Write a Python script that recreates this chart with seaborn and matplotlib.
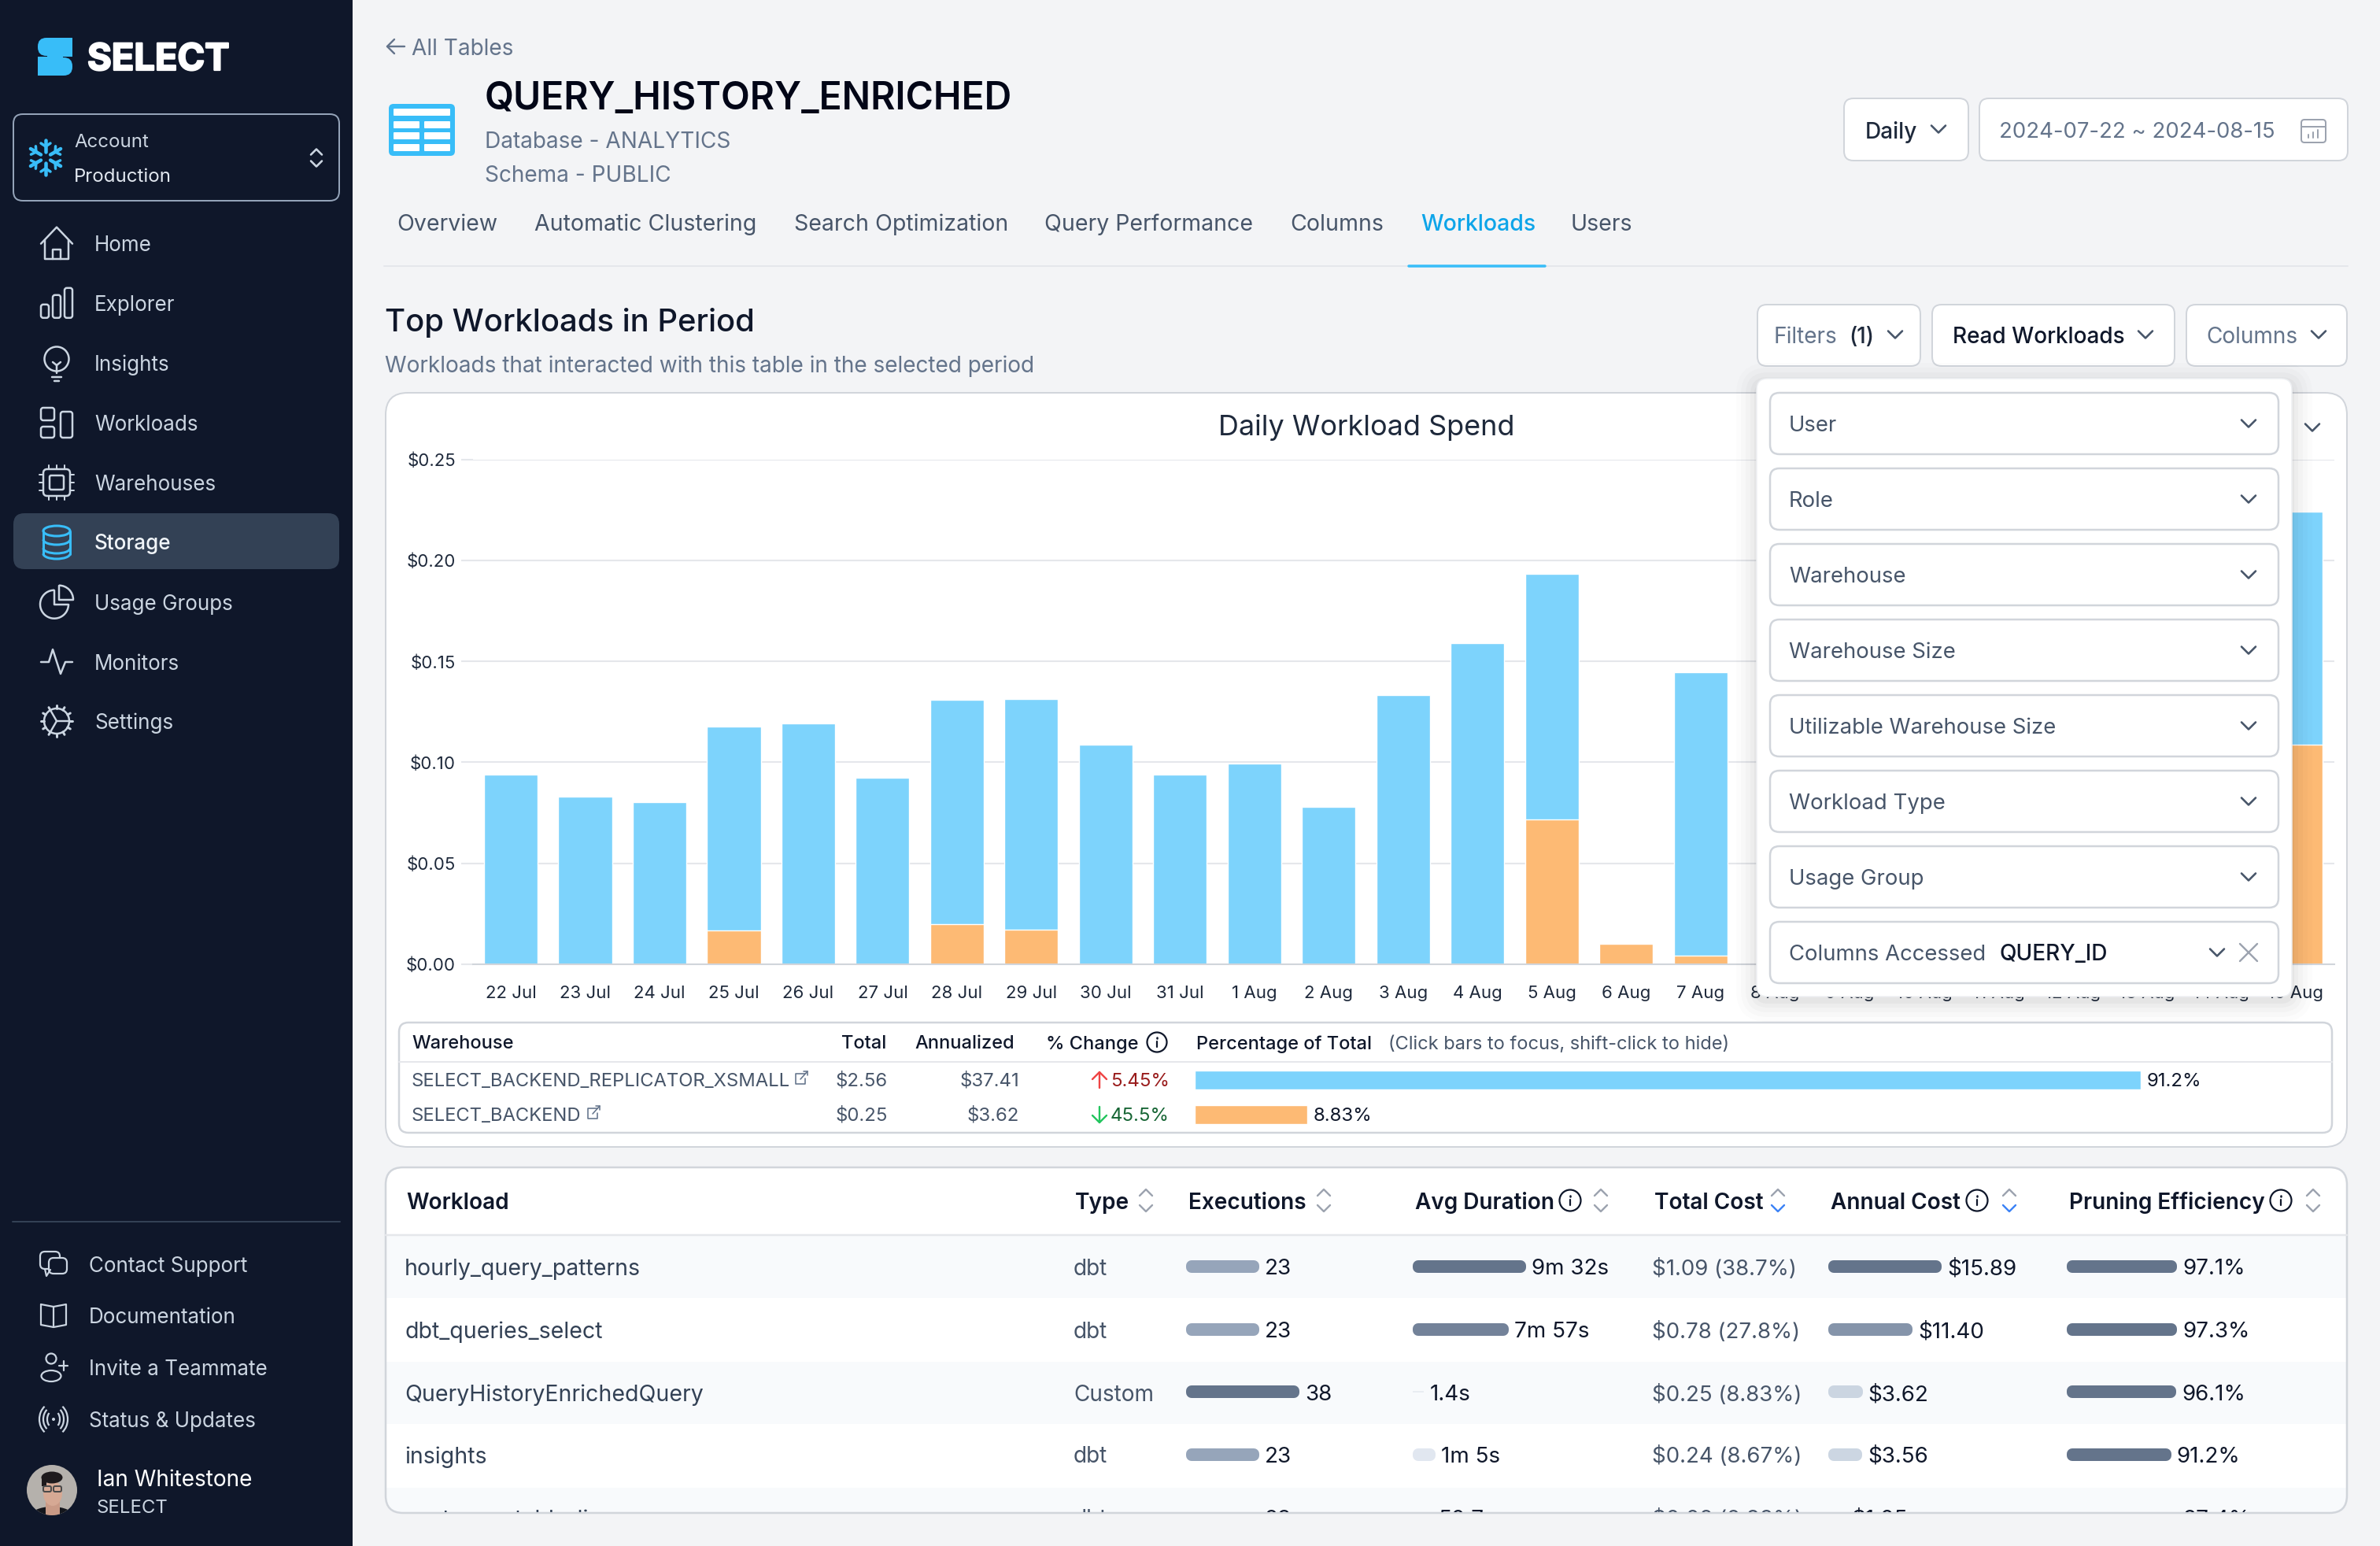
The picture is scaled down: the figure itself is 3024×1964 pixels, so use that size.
import matplotlib
matplotlib.use('Agg')
import matplotlib.patheffects as pe
import matplotlib.pyplot as plt
import numpy as np
import pandas as pd
import seaborn as sns
from matplotlib.colors import LinearSegmentedColormap
from matplotlib.patches import Arc, Circle, Ellipse, FancyBboxPatch, Rectangle

W, H = 3024, 1964

# chart data
days = ['22 Jul', '23 Jul', '24 Jul', '25 Jul', '26 Jul', '27 Jul', '28 Jul', '29 Jul', '30 Jul', '31 Jul',
        '1 Aug', '2 Aug', '3 Aug', '4 Aug', '5 Aug', '6 Aug', '7 Aug', '8 Aug', '9 Aug', '10 Aug',
        '11 Aug', '12 Aug', '13 Aug', '14 Aug', '15 Aug']
# 8 Aug - 14 Aug sit behind the filter panel, so they stay at zero
replicator_spend = [0.0939, 0.0829, 0.0802, 0.1011, 0.1194, 0.0924, 0.1114, 0.1143, 0.1088, 0.0939,
                    0.0994, 0.0778, 0.1335, 0.1592, 0.1219, 0.0, 0.1403, 0, 0, 0, 0, 0, 0, 0, 0.1155]
backend_spend = [0, 0, 0, 0.0167, 0, 0, 0.0196, 0.0171, 0, 0,
                 0, 0, 0, 0, 0.0717, 0.0100, 0.0043, 0, 0, 0, 0, 0, 0, 0, 0.1086]
spend_ticks = [0.0, 0.05, 0.10, 0.15, 0.20, 0.25]

warehouses = ['SELECT_BACKEND_REPLICATOR_XSMALL', 'SELECT_BACKEND']
warehouse_total = ['$2.56', '$0.25']
warehouse_annual = ['$37.41', '$3.62']
warehouse_change = ['5.45%', '45.5%']
warehouse_share = ['91.2%', '8.83%']
warehouse_bar = [100, 11.9]

workloads = ['hourly_query_patterns', 'dbt_queries_select', 'QueryHistoryEnrichedQuery', 'insights', 'customer_table_lineage']
types = ['dbt', 'dbt', 'Custom', 'dbt', 'dbt']
executions = [23, 23, 38, 23, 23]
duration_s = [572, 477, 1.4, 65, 50.7]
duration_txt = ['9m 32s', '7m 57s', '1.4s', '1m 5s', '50.7s']
cost_txt = ['$1.09 (38.7%)', '$0.78 (27.8%)', '$0.25 (8.83%)', '$0.24 (8.67%)', '$0.08 (2.93%)']
annual_cost = [15.89, 11.40, 3.62, 3.56, 1.05]
pruning = [97.1, 97.3, 96.1, 91.2, 97.4]

nav_main = ['Home', 'Explorer', 'Insights', 'Workloads', 'Warehouses', 'Storage', 'Usage Groups', 'Monitors', 'Settings']
nav_foot = ['Contact Support', 'Documentation', 'Invite a Teammate', 'Status & Updates']
tabs = ['Overview', 'Automatic Clustering', 'Search Optimization', 'Query Performance', 'Columns', 'Workloads', 'Users']
filters = ['User', 'Role', 'Warehouse', 'Warehouse Size', 'Utilizable Warehouse Size', 'Workload Type', 'Usage Group', 'Columns Accessed']

NAVY, SLATE, MUTED, INK = '#0f172a', '#cbd5e1', '#64748b', '#0f172a'
BODY, LINE, SKY, BAR_BLUE, BAR_ORANGE = '#475569', '#d1d5db', '#38bdf8', '#7dd3fc', '#fdba74'

sns.set_theme(style='white')
plt.rcParams['font.family'] = ['Inter', 'DejaVu Sans']

fig = plt.figure(figsize=(W / 100, H / 100), dpi=100, facecolor='#f3f4f6')


def px_axes(x0, y0, x1, y1, z=1):
    return fig.add_axes([x0 / W, 1 - y1 / H, (x1 - x0) / W, (y1 - y0) / H], zorder=z)


def ui_axes(z):
    a = px_axes(0, 0, W, H, z)
    a.set_xlim(0, W)
    a.set_ylim(H, 0)
    a.axis('off')
    a.patch.set_alpha(0)
    return a


back = ui_axes(0)
front = ui_axes(5)


def text(a, x, y, s, px=28, color=BODY, weight='normal', ha='left', clip=None):
    t = a.text(x, y, s, fontsize=px * 0.72, color=color, weight=weight, ha=ha, va='center_baseline')
    if clip is not None:
        t.set_clip_path(clip)
        t.set_clip_on(True)
    return t


def box(a, x0, y0, x1, y1, r=12, fc='white', ec=LINE, lw=2, z=1, alpha=None):
    p = FancyBboxPatch((x0, y0), x1 - x0, y1 - y0, boxstyle=f'round,pad=0,rounding_size={r}',
                       fc=fc, ec=ec, lw=lw * 0.72, zorder=z, alpha=alpha)
    a.add_patch(p)
    return p


def line(a, xs, ys, color=SLATE, lw=2.5, z=3):
    a.plot(xs, ys, color=color, lw=lw * 0.72, solid_capstyle='round', solid_joinstyle='round', zorder=z)


def chevron(a, x, y, s=9, color=BODY, up=False, lw=2.6):
    d = -1 if up else 1
    line(a, [x - s, x, x + s], [y - d * s / 2, y + d * s / 2, y - d * s / 2], color, lw, z=6)


def info(a, x, y, r=13.5, color=INK):
    a.add_patch(Circle((x, y), r, fc='none', ec=color, lw=1.6, zorder=4))
    line(a, [x, x], [y - 1, y + 6], color, 2.2, z=4)
    line(a, [x, x], [y - 6, y - 5.5], color, 2.6, z=4)


def sort_icon(a, x, y, active=False):
    chevron(a, x, y - 10, 8, '#9ca3af', up=True, lw=2.4)
    chevron(a, x, y + 10, 8, '#3b82f6' if active else '#9ca3af', lw=2.4)


def ext_link(a, x, y):
    line(a, [x + 5, x - 7, x - 7, x + 5, x + 5], [y - 5, y - 5, y + 8, y + 8, y + 1], MUTED, 1.6)
    line(a, [x - 1, x + 8], [y + 2, y - 8], MUTED, 1.6)
    line(a, [x + 3, x + 8, x + 8], [y - 8, y - 8, y - 3], MUTED, 1.6)


# sidebar
back.add_patch(Rectangle((0, 0), 448, H, fc=NAVY, ec='none'))
box(back, 48, 48, 92, 71, r=11, fc=SKY, ec='none', lw=0, z=2)
back.add_patch(Rectangle((66, 48), 26, 24, fc=SKY, ec='none', zorder=2))
box(back, 48, 73, 92, 96, r=11, fc=SKY, ec='none', lw=0, z=2)
back.add_patch(Rectangle((48, 72), 26, 24, fc=SKY, ec='none', zorder=2))
back.add_patch(Rectangle((60, 68), 20, 8, fc=SKY, ec='none', zorder=2))
logo = text(back, 111, 72, 'SELECT', 47, 'white', 'bold')
logo.set_path_effects([pe.withStroke(linewidth=1.6, foreground='white')])

box(back, 17, 145, 431, 255, r=12, fc='none', ec='#94a3b8', lw=2)
for ang in np.deg2rad([90, 30, -30, -90, 150, 210]):
    c, s = np.cos(ang), np.sin(ang)
    line(back, [58 + 7 * c, 58 + 22 * c], [200 + 7 * s, 200 + 22 * s], SKY, 4.5)
    for side in (-1, 1):
        line(back, [58 + 14 * c, 58 + 18 * c - side * 6 * s], [200 + 14 * s, 200 + 18 * s + side * 6 * c], SKY, 3.5)
text(back, 94, 178, 'Account', 24, SLATE)
text(back, 94, 222, 'Production', 24, '#e2e8f0')
chevron(back, 402, 193, 7, SLATE, up=True)
chevron(back, 402, 208, 7, SLATE)

box(back, 17, 652, 431, 723, r=14, fc='#334155', ec='none', lw=0)
nav_y = [308.6, 384.8, 461, 537, 613, 688.5, 764.7, 841, 916]
for name, y in zip(nav_main, nav_y):
    text(back, 120, y, name, 26, '#f1f5f9' if name == 'Storage' else SLATE, 'medium' if name == 'Storage' else 'normal')

# sidebar icons
ix = 72
y = nav_y[0]
line(back, [ix - 20, ix, ix + 20], [y + 1, y - 20, y + 1])
line(back, [ix - 15, ix - 15, ix + 15, ix + 15], [y - 4, y + 20, y + 20, y - 4])
line(back, [ix - 5, ix - 5, ix + 5, ix + 5], [y + 20, y + 8, y + 8, y + 20])
y = nav_y[1]
for dx, top in [(-15, 2), (0, -10), (15, -19)]:
    box(back, ix + dx - 5, y + top, ix + dx + 5, y + 19, r=3, fc='none', ec=SLATE, lw=2.5)
y = nav_y[2]
back.add_patch(Circle((ix, y - 5), 15.5, fc='none', ec=SLATE, lw=1.8))
line(back, [ix - 6, ix + 6], [y + 18, y + 18])
line(back, [ix - 3, ix + 3], [y + 23, y + 23])
line(back, [ix - 5, ix, ix + 5], [y - 1, y + 3, y - 1])
line(back, [ix, ix], [y + 3, y + 13])
y = nav_y[3]
box(back, ix - 20, y - 19, ix - 3, y - 3, r=3, fc='none', ec=SLATE, lw=2.5)
box(back, ix - 20, y + 5, ix - 3, y + 19, r=3, fc='none', ec=SLATE, lw=2.5)
box(back, ix + 5, y - 14, ix + 20, y + 19, r=3, fc='none', ec=SLATE, lw=2.5)
y = nav_y[4]
box(back, ix - 17, y - 17, ix + 17, y + 17, r=5, fc='none', ec=SLATE, lw=2.5)
box(back, ix - 9, y - 9, ix + 9, y + 9, r=2, fc='none', ec=SLATE, lw=2.5)
for d in (-10, 0, 10):
    line(back, [ix + d, ix + d], [y - 22, y - 17], lw=2)
    line(back, [ix + d, ix + d], [y + 17, y + 22], lw=2)
    line(back, [ix - 22, ix - 17], [y + d, y + d], lw=2)
    line(back, [ix + 17, ix + 22], [y + d, y + d], lw=2)
y = nav_y[5]
back.add_patch(Ellipse((ix, y - 14), 34, 13, fc='#334155', ec=SKY, lw=2.2, zorder=3))
for dy in (-3, 8, 15):
    back.add_patch(Arc((ix, y + dy), 34, 13, theta1=0, theta2=180, ec=SKY, lw=2.2, zorder=3))
line(back, [ix - 17, ix - 17], [y - 14, y + 15], SKY, 3)
line(back, [ix + 17, ix + 17], [y - 14, y + 15], SKY, 3)
y = nav_y[6]
back.add_patch(Arc((ix - 3, y + 3), 36, 36, theta1=0, theta2=270, ec=SLATE, lw=1.8))
line(back, [ix - 3, ix - 3, ix + 15], [y - 15, y + 3, y + 3])
back.add_patch(Arc((ix + 3, y + -3), 36, 36, theta1=270, theta2=360, ec=SLATE, lw=1.8))
line(back, [ix + 3, ix + 3, ix + 21], [y - 21, y - 3, y - 3])
y = nav_y[7]
line(back, [ix - 20, ix - 10, ix - 5, ix + 5, ix + 11, ix + 20], [y, y, y - 16, y + 15, y, y])
y = nav_y[8]
back.add_patch(Circle((ix, y), 16, fc='none', ec=SLATE, lw=1.8))
for ang in np.deg2rad([0, 120, 240]):
    line(back, [ix, ix + 16 * np.cos(ang)], [y, y + 16 * np.sin(ang)], lw=2.4)
for ang in np.deg2rad(np.arange(0, 360, 30)):
    line(back, [ix + 16 * np.cos(ang), ix + 20 * np.cos(ang)], [y + 16 * np.sin(ang), y + 20 * np.sin(ang)], lw=3)

line(back, [16, 432], [1552, 1552], '#334155', 2)
foot_y = [1606, 1671, 1737, 1803]
for name, y in zip(nav_foot, foot_y):
    text(back, 113, y, name, 26, SLATE)
ix = 68
y = foot_y[0]
box(back, ix - 17, y - 16, ix + 8, y + 6, r=6, fc=NAVY, ec=SLATE, lw=2.2)
box(back, ix - 6, y - 8, ix + 17, y + 12, r=6, fc=NAVY, ec=SLATE, lw=2.2, z=2)
line(back, [ix - 11, ix - 9, ix - 4], [y + 6, y + 15, y + 7], lw=2.2)
y = foot_y[1]
line(back, [ix - 16, ix - 16, ix, ix + 16, ix + 16, ix, ix - 16], [y - 14, y + 12, y + 15, y + 12, y - 14, y - 11, y - 14], lw=2.2)
line(back, [ix, ix], [y - 11, y + 15], lw=2.2)
y = foot_y[2]
back.add_patch(Circle((ix - 3, y - 11), 6.5, fc='none', ec=SLATE, lw=1.6))
back.add_patch(Ellipse((ix - 3, y + 11), 25, 14, fc='none', ec=SLATE, lw=1.6))
line(back, [ix + 7, ix + 18], [y - 2, y - 2], lw=2.2)
line(back, [ix + 12.5, ix + 12.5], [y - 8, y + 4], lw=2.2)
y = foot_y[3]
back.add_patch(Circle((ix, y), 2, fc=SLATE, ec='none'))
for r in (8, 13, 18):
    back.add_patch(Arc((ix, y), 2 * r, 2 * r + 6, theta1=-55, theta2=55, ec=SLATE, lw=1.6))
    back.add_patch(Arc((ix, y), 2 * r, 2 * r + 6, theta1=125, theta2=235, ec=SLATE, lw=1.6))

# avatar
av = Circle((66, 1893), 32, fc='#b5b1ac', ec='none', zorder=2)
back.add_patch(av)
for piece in [Ellipse((66, 1927), 56, 26, fc='#14161c', ec='none', zorder=3),
              Rectangle((58, 1908), 18, 17, fc='#c99a86', ec='none', zorder=3.5),
              Ellipse((67, 1897), 24, 32, fc='#d6a994', ec='none', zorder=4),
              Ellipse((66, 1877), 27, 15, fc='#1e1a1c', ec='none', zorder=5)]:
    back.add_patch(piece)
    piece.set_clip_path(av)
back.add_patch(Rectangle((53, 1876), 6, 12, fc='#1e1a1c', ec='none', zorder=5))
for gx in (60, 73):
    box(back, gx - 5, 1888, gx + 5, 1895, r=2, fc='none', ec='#4a4a4a', lw=2, z=6)
text(back, 123, 1877, 'Ian Whitestone', 28, 'white')
text(back, 123, 1913, 'SELECT', 24, SLATE)

# page header
line(back, [514, 492], [59, 59], MUTED, 2.4)
line(back, [501, 492, 501], [50, 59, 68], MUTED, 2.4)
text(back, 523, 59, 'All Tables', 28, MUTED)
box(back, 494, 132, 578, 198, r=6, fc=SKY, ec='none', lw=0)
box(back, 500, 138, 572, 147, r=1, fc='white', ec='none', lw=0, z=2)
for row in (154, 168, 183):
    box(back, 500, row, 533, row + 9, r=1, fc='white', ec='none', lw=0, z=2)
    box(back, 539, row, 572, row + 9, r=1, fc='white', ec='none', lw=0, z=2)
text(back, 616, 121, 'QUERY_HISTORY_ENRICHED', 48, '#020617', 'semibold')
text(back, 616, 177, 'Database - ANALYTICS', 28, MUTED)
text(back, 616, 220, 'Schema - PUBLIC', 28, MUTED)

box(back, 2343, 125, 2501, 204, r=12)
text(back, 2370, 165, 'Daily', 28, '#1e293b', 'medium')
chevron(back, 2463, 164, 9)
box(back, 2515, 125, 2983, 204, r=12)
text(back, 2540, 165, '2024-07-22 ~ 2024-08-15', 27.5, MUTED)
box(back, 2924, 152, 2955, 181, r=4, fc='none', ec='#9ca3af', lw=2)
line(back, [2924, 2955], [161, 161], '#9ca3af', 2)
for cx, h in [(2933, 4), (2939, 7), (2945, 10)]:
    line(back, [cx, cx], [175 - h, 175], '#9ca3af', 2)

tab_x = [504, 679, 1009, 1327, 1639, 1805, 1996]
for name, x in zip(tabs, tab_x):
    text(back, x, 282, name, 28.5, '#0ea5e9' if name == 'Workloads' else BODY, 'medium' if name == 'Workloads' else 'normal')
line(back, [488, 2983], [338, 338], '#e5e7eb', 2, z=2)
line(back, [1790, 1963], [337.5, 337.5], SKY, 3.5)

text(back, 489, 406, 'Top Workloads in Period', 40, INK, 'medium')
text(back, 489, 462, 'Workloads that interacted with this table in the selected period', 28, MUTED)

box(back, 2233, 387, 2440, 465, r=12)
text(back, 2254, 425, 'Filters', 28, MUTED)
text(back, 2349, 425, '(1)', 28, '#1e293b', 'medium')
chevron(back, 2408, 425, 9)
box(back, 2455, 387, 2763, 465, r=12)
text(back, 2481, 425, 'Read Workloads', 28, INK, 'medium')
chevron(back, 2726, 425, 9)
box(back, 2778, 387, 2982, 465, r=12)
text(back, 2803, 425, 'Columns', 28, MUTED)
chevron(back, 2946, 425, 9)

# chart card
box(back, 490, 499, 2982, 1457, r=28)
text(back, 1736, 540, 'Daily Workload Spend', 36, '#1e293b', ha='center')
chevron(back, 2938, 543, 9)

chart = px_axes(601, 584, 2966, 1224.7, 2)
chart.patch.set_alpha(0)
spend = pd.DataFrame({'day': days, 'replicator': replicator_spend, 'backend': backend_spend})
spend['total'] = spend.replicator + spend.backend
sns.barplot(data=spend, x='day', y='total', color=BAR_BLUE, saturation=1, width=0.72, ax=chart)
sns.barplot(data=spend, x='day', y='backend', color=BAR_ORANGE, saturation=1, width=0.72, ax=chart)
chart.set_xlim(-0.508, 24.52)
chart.set_ylim(0, 0.25)
chart.set_xlabel('')
chart.set_ylabel('')
chart.set_yticks(spend_ticks, [f'${v:.2f}' for v in spend_ticks])
chart.grid(axis='y', color='#e5e7eb', lw=1.5)
chart.set_axisbelow(True)
chart.tick_params(axis='y', left=True, length=10.8, width=1.5, color='#e5e7eb', pad=5, labelsize=16, labelcolor='#1e293b')
chart.tick_params(axis='x', bottom=False, pad=14, labelsize=16, labelcolor='#1e293b')
sns.despine(ax=chart, left=True)
chart.spines['bottom'].set_color(LINE)
chart.spines['bottom'].set_linewidth(1.5)

# warehouse table
box(back, 507, 1299, 2963, 1439, r=12, fc='white', ec=LINE, lw=2.5)
line(back, [507, 2963], [1349, 1349], '#e5e7eb', 2, z=2)
for x, s in [(523, 'Warehouse'), (1069, 'Total'), (1162, 'Annualized'), (1329, '% Change'), (1520, 'Percentage of Total')]:
    text(back, x, 1324, s, 23.6, INK, 'medium')
info(back, 1470, 1324, 12.5)
text(back, 1764, 1324, '(Click bars to focus, shift-click to hide)', 23.6, BODY)
wh_y = [1371, 1415]
ext_x = [1018, 754]
for i, y in enumerate(wh_y):
    text(back, 522, y, warehouses[i], 23.8, BODY)
    ext_link(back, ext_x[i], y - 2)
    text(back, 1128, y, warehouse_total[i], 24, BODY, ha='right')
    text(back, 1295, y, warehouse_annual[i], 24, BODY, ha='right')
tone = ['#991b1b', '#166534']
text(back, 1486, wh_y[0], warehouse_change[0], 24, tone[0], ha='right')
text(back, 1486, wh_y[1], warehouse_change[1], 24, tone[1], ha='right')
line(back, [1397, 1397], [1362, 1382], '#ef4444', 2.4)
line(back, [1388, 1397, 1406], [1371, 1362, 1371], '#ef4444', 2.4)
line(back, [1397, 1397], [1406, 1426], '#22c55e', 2.4)
line(back, [1388, 1397, 1406], [1417, 1426, 1417], '#22c55e', 2.4)

share_ax = px_axes(1518, 1350, 2720, 1438, 2)
share_ax.patch.set_alpha(0)
sns.barplot(x=warehouse_bar, y=warehouses, hue=warehouses, palette=[BAR_BLUE, BAR_ORANGE], orient='h',
            saturation=1, width=0.545, legend=False, ax=share_ax)
share_ax.set_xlim(0, 100)
share_ax.axis('off')
text(back, 2728, wh_y[0], warehouse_share[0], 24, INK)
text(back, 1669, wh_y[1], warehouse_share[1], 24, INK)

# workload table
table_box = box(back, 490, 1483, 2982, 1922, r=22, fc='white', ec='none', lw=0)
clip = Rectangle((490, 1483), 2492, 438, transform=back.transData)
for top, bottom in [(1570, 1649), (1730, 1809)]:
    back.add_patch(Rectangle((491, top), 2490, bottom - top, fc='#f8fafc', ec='none', zorder=1.5))
band = Rectangle((491, 1890), 2490, 32, fc='#f8fafc', ec='none', zorder=1.5)
back.add_patch(band)
band.set_clip_path(table_box)
box(back, 490, 1483, 2982, 1922, r=22, fc='none', ec=LINE, lw=2.5, z=2)
line(back, [490, 2982], [1569, 1569], '#e5e7eb', 2.5, z=2)

head_y = 1525
for x, s in [(516, 'Workload'), (1366, 'Type'), (1510, 'Executions'), (1798, 'Avg Duration'), (2102, 'Total Cost'), (2326, 'Annual Cost'), (2629, 'Pruning Efficiency')]:
    text(back, x, head_y, s, 28, INK, 'semibold')
for x in (1995, 2512, 2898):
    info(back, x, head_y)
for x, active in [(1456, False), (1682, False), (2034, False), (2259, True), (2553, True), (2939, False)]:
    sort_icon(back, x, head_y, active)

row_y = [1609, 1689, 1769, 1848, 1928]
shade = LinearSegmentedColormap.from_list('shade', [(0, '#e9edf2'), (0.11, '#e2e8f0'), (0.23, '#cbd5e1'),
                                                    (0.62, '#94a3b8'), (0.93, '#64748b'), (1, '#64748b')])
BAR_SPAN, CAP = 130, 14


def inline_column(values, left, limit, labels):
    # values drawn as pills, the thick round edge gives the end caps
    a = px_axes(left + CAP / 2, row_y[0] - 40, left + CAP / 2 + BAR_SPAN, row_y[3] + 40, 2)
    a.patch.set_alpha(0)
    rows = workloads[:4]
    vals = values[:4]
    cols = [shade(v / max(vals)) for v in vals]
    sns.barplot(x=vals, y=rows, hue=rows, palette=cols, orient='h', saturation=1, width=0.025, legend=False, ax=a)
    a.set_xlim(0, limit)
    a.axis('off')
    for p in a.patches:
        p.set_edgecolor(p.get_facecolor())
        p.set_linewidth(CAP * 0.72)
        p.set_joinstyle('round')
        p.set_clip_on(False)
    for v, y, s in zip(values, row_y, labels):
        text(back, left + CAP + BAR_SPAN * v / limit + 7, y, s, 27.8, INK, clip=clip)


inline_column(executions, 1507, max(executions), [str(v) for v in executions])
inline_column(duration_s, 1795, max(duration_s), duration_txt)
inline_column(annual_cost, 2323, max(annual_cost), [f'${v:.2f}' for v in annual_cost])
inline_column(pruning, 2626, 100, [f'{v}%' for v in pruning])

for i, y in enumerate(row_y):
    text(back, 514, y, workloads[i], 28.5, '#334155', clip=clip)
    text(back, 1364, y, types[i], 28, BODY, clip=clip)
    text(back, 2099, y, cost_txt[i], 27.6, BODY, clip=clip)

# filter panel on top of the chart
for grow, alpha in [(26, 0.012), (20, 0.015), (14, 0.02), (8, 0.025), (3, 0.03)]:
    box(front, 2232 - grow, 481 - grow + 6, 2912 + grow, 1266 + grow + 6, r=14 + grow, fc='black', ec='none', lw=0, z=1, alpha=alpha)
box(front, 2232, 481, 2912, 1266, r=14, fc='white', ec='#eef0f3', lw=1.5, z=2)
for i, name in enumerate(filters):
    top = 499 + 96 * i
    box(front, 2249, top, 2895, top + 78, r=12, fc='white', ec=LINE, lw=2.5, z=3)
    text(front, 2273, top + 38.5, name, 27.5, BODY)
    if i < 7:
        chevron(front, 2857, top + 39, 9)
top = 499 + 96 * 7
text(front, 2541, top + 38.5, 'QUERY_ID', 28, INK, 'medium')
chevron(front, 2817, top + 39, 9)
line(front, [2846, 2868], [top + 28, top + 50], '#9ca3af', 2.4, z=6)
line(front, [2846, 2868], [top + 50, top + 28], '#9ca3af', 2.4, z=6)

fig.savefig('out.png', dpi=100, facecolor=fig.get_facecolor())
